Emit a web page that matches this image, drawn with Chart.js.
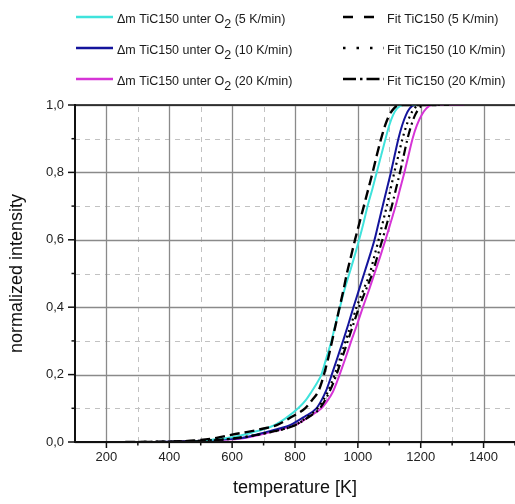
<!DOCTYPE html>
<html>
<head>
<meta charset="utf-8">
<script src="https://cdn.jsdelivr.net/npm/chart.js@4/dist/chart.umd.min.js"></script>
<style>
  html, body { margin: 0; padding: 0; background: #fff; }
  canvas { display: block; }
</style>
</head>
<body>
<canvas id="c" width="515" height="504"></canvas>
<script>
// Measured TG curves (normalized mass change) of TiC150 under O2
const t5 = [300, 450, 500, 550, 600, 630, 670, 700, 735, 770, 810, 835, 853, 870, 884, 900, 916, 929, 943, 957, 973, 989, 1004, 1018, 1031, 1046, 1060, 1074, 1088, 1100, 1112, 1125, 1145, 1200];
const m5 = [0, 0, 0.003, 0.008, 0.014, 0.02, 0.03, 0.038, 0.05, 0.07, 0.1, 0.125, 0.15, 0.175, 0.2, 0.25, 0.3, 0.35, 0.4, 0.45, 0.5, 0.55, 0.6, 0.65, 0.7, 0.75, 0.8, 0.85, 0.9, 0.94, 0.97, 0.99, 1.0, 1.0];

const t10 = [350, 450, 500, 550, 630, 710, 750, 784, 830, 868, 885, 898, 908, 917, 935, 953, 970, 986, 1003, 1020, 1037, 1053, 1066, 1079, 1092, 1105, 1117, 1129, 1141, 1153, 1165, 1182, 1250];
const m10 = [0, 0.002, 0.004, 0.007, 0.012, 0.03, 0.04, 0.05, 0.075, 0.1, 0.125, 0.15, 0.175, 0.2, 0.25, 0.3, 0.35, 0.4, 0.45, 0.5, 0.55, 0.6, 0.65, 0.7, 0.75, 0.8, 0.85, 0.9, 0.94, 0.97, 0.99, 1.0, 1.0];

const t20 = [350, 400, 500, 600, 630, 726, 765, 800, 845, 884, 905, 921, 932, 942, 961, 979, 998, 1016, 1035, 1053, 1071, 1088, 1104, 1120, 1134, 1148, 1161, 1174, 1188, 1203, 1218, 1236, 1338];
const m20 = [0, 0, 0.003, 0.008, 0.01, 0.03, 0.04, 0.05, 0.075, 0.1, 0.125, 0.15, 0.175, 0.2, 0.25, 0.3, 0.35, 0.4, 0.45, 0.5, 0.55, 0.6, 0.65, 0.7, 0.75, 0.8, 0.85, 0.9, 0.94, 0.97, 0.99, 1.0, 1.0];

// Kinetic model fits
const tFit5 = [260, 400, 500, 550, 600, 650, 700, 742, 790, 832, 855, 874, 884, 892, 906, 918, 930, 942, 954, 965, 978, 991, 1005, 1019, 1033, 1047, 1060, 1074, 1087, 1100, 1115, 1131, 1250];
const fit5 = [0, 0.001, 0.006, 0.012, 0.022, 0.03, 0.04, 0.05, 0.075, 0.1, 0.125, 0.15, 0.175, 0.2, 0.25, 0.3, 0.35, 0.4, 0.45, 0.5, 0.55, 0.6, 0.65, 0.7, 0.75, 0.8, 0.85, 0.9, 0.94, 0.97, 0.99, 1.0, 1.0];

const tFit10 = [300, 500, 600, 700, 800, 840, 872, 905, 926, 944, 961, 979, 996, 1017, 1038, 1052, 1066, 1079, 1092, 1104, 1116, 1129, 1142, 1155, 1167, 1180, 1195, 1260];
const fit10 = [0, 0.004, 0.01, 0.025, 0.05, 0.075, 0.1, 0.15, 0.2, 0.25, 0.3, 0.35, 0.4, 0.45, 0.5, 0.55, 0.6, 0.65, 0.7, 0.75, 0.8, 0.85, 0.9, 0.94, 0.97, 0.99, 1.0, 1.0];

const tFit20 = [300, 500, 600, 700, 800, 845, 879, 910, 932, 950, 968, 986, 1004, 1025, 1046, 1062, 1078, 1093, 1108, 1121, 1134, 1146, 1158, 1170, 1182, 1195, 1210, 1290];
const fit20 = [0, 0.003, 0.01, 0.025, 0.05, 0.075, 0.1, 0.15, 0.2, 0.25, 0.3, 0.35, 0.4, 0.45, 0.5, 0.55, 0.6, 0.65, 0.7, 0.75, 0.8, 0.85, 0.9, 0.94, 0.97, 0.99, 1.0, 1.0];

// Axis ticks
const xTicks = [200, 400, 600, 800, 1000, 1200, 1400];
const xMinor = [300, 500, 700, 900, 1100, 1300, 1500];
const yTicks = [0, 0.2, 0.4, 0.6, 0.8, 1.0];
const yMinor = [0.1, 0.3, 0.5, 0.7, 0.9];

const FONT = '"Liberation Sans", Arial, sans-serif';
const pts = (xs, ys) => xs.map((x, i) => ({ x: x, y: ys[i] }));

const legendRows = [
  { color: '#3fe3dc', label: '5 K/min', fit: [10, 11], fitLabel: 'Fit TiC150 (5 K/min)' },
  { color: '#14149c', label: '10 K/min', fit: [2.5, 11], fitLabel: 'Fit TiC150 (10 K/min)' },
  { color: '#d634d6', label: '20 K/min', fit: [13, 4, 2.5, 4], fitLabel: 'Fit TiC150 (20 K/min)' }
];

// Grid lines (solid major, dashed minor), axis frame and tick marks
const frame = {
  id: 'frame',
  beforeDatasetsDraw(chart) {
    const { ctx, chartArea: a, scales: { x, y } } = chart;
    ctx.save();
    ctx.lineWidth = 1;
    ctx.strokeStyle = '#c2c2c2';
    ctx.setLineDash([5, 5]);
    xMinor.forEach(v => {
      const px = Math.round(x.getPixelForValue(v)) + 0.5;
      ctx.beginPath(); ctx.moveTo(px, a.bottom); ctx.lineTo(px, a.top); ctx.stroke();
    });
    yMinor.forEach(v => {
      const py = Math.round(y.getPixelForValue(v)) + 0.5;
      ctx.beginPath(); ctx.moveTo(a.left, py); ctx.lineTo(a.right, py); ctx.stroke();
    });
    ctx.setLineDash([]);
    ctx.strokeStyle = '#8a8a8a';
    ctx.lineWidth = 1.3;
    xTicks.forEach(v => {
      const px = Math.round(x.getPixelForValue(v)) + 0.5;
      ctx.beginPath(); ctx.moveTo(px, a.bottom); ctx.lineTo(px, a.top); ctx.stroke();
    });
    yTicks.forEach(v => {
      const py = Math.round(y.getPixelForValue(v)) + 0.5;
      ctx.beginPath(); ctx.moveTo(a.left, py); ctx.lineTo(a.right, py); ctx.stroke();
    });
    ctx.restore();
  },
  afterDatasetsDraw(chart) {
    const { ctx, chartArea: a, scales: { x, y } } = chart;
    ctx.save();
    ctx.strokeStyle = '#111';
    ctx.lineWidth = 1.6;
    ctx.beginPath(); ctx.moveTo(a.left, a.top); ctx.lineTo(a.right, a.top); ctx.stroke();
    ctx.lineWidth = 2;
    ctx.beginPath();
    ctx.moveTo(a.left, a.top - 1); ctx.lineTo(a.left, a.bottom); ctx.lineTo(a.right, a.bottom);
    ctx.stroke();
    ctx.lineWidth = 1.5;
    xTicks.forEach(v => {
      const px = x.getPixelForValue(v);
      ctx.beginPath(); ctx.moveTo(px, a.bottom); ctx.lineTo(px, a.bottom + 6); ctx.stroke();
    });
    xMinor.forEach(v => {
      const px = x.getPixelForValue(v);
      ctx.beginPath(); ctx.moveTo(px, a.bottom); ctx.lineTo(px, a.bottom + 3.5); ctx.stroke();
    });
    yTicks.forEach(v => {
      const py = y.getPixelForValue(v);
      ctx.beginPath(); ctx.moveTo(a.left, py); ctx.lineTo(a.left - 7, py); ctx.stroke();
    });
    yMinor.forEach(v => {
      const py = y.getPixelForValue(v);
      ctx.beginPath(); ctx.moveTo(a.left, py); ctx.lineTo(a.left - 3.5, py); ctx.stroke();
    });
    ctx.restore();
  }
};

// Two-column legend with subscripted O2
const legend = {
  id: 'twoColLegend',
  afterDraw(chart) {
    const ctx = chart.ctx;
    ctx.save();
    ctx.font = '12.5px ' + FONT;
    ctx.fillStyle = '#1a1a1a';
    ctx.textBaseline = 'alphabetic';
    ctx.textAlign = 'left';
    legendRows.forEach((r, i) => {
      const base = 22.5 + i * 31;
      const ly = base - 5.5;
      ctx.setLineDash([]);
      ctx.strokeStyle = r.color;
      ctx.lineWidth = 2.6;
      ctx.beginPath(); ctx.moveTo(76, ly); ctx.lineTo(113, ly); ctx.stroke();
      let tx = 117;
      const s1 = '\u0394m TiC150 unter O';
      ctx.fillText(s1, tx, base);
      tx += ctx.measureText(s1).width;
      ctx.fillText('2', tx, base + 5);
      tx += ctx.measureText('2').width;
      ctx.fillText(' (' + r.label + ')', tx, base);

      ctx.strokeStyle = '#000';
      ctx.lineWidth = 2.6;
      ctx.setLineDash(r.fit);
      ctx.beginPath(); ctx.moveTo(343, ly); ctx.lineTo(384, ly); ctx.stroke();
      ctx.setLineDash([]);
      ctx.fillText(r.fitLabel, 387, base);
    });
    ctx.restore();
  }
};

const line = (data, color, width, dash) => ({
  data: data,
  borderColor: color,
  borderWidth: width,
  borderDash: dash,
  pointRadius: 0,
  fill: false,
  cubicInterpolationMode: 'monotone'
});

new Chart(document.getElementById('c'), {
  type: 'line',
  data: {
    datasets: [
      line(pts(tFit5, fit5), '#000', 2.4, [10, 5]),
      line(pts(tFit10, fit10), '#000', 2.2, [2, 4]),
      line(pts(tFit20, fit20), '#000', 2.2, [9, 4, 2, 4]),
      line(pts(t5, m5), '#3fe3dc', 2, []),
      line(pts(t10, m10), '#14149c', 2, []),
      line(pts(t20, m20), '#d634d6', 2, [])
    ]
  },
  options: {
    responsive: false,
    animation: false,
    events: [],
    layout: { padding: { top: 105, right: 0, left: 0, bottom: 0 } },
    plugins: { legend: { display: false }, tooltip: { enabled: false } },
    scales: {
      x: {
        type: 'linear',
        min: 100,
        max: 1500,
        afterFit(s) { s.height = 62; },
        afterBuildTicks(s) { s.ticks = xTicks.map(v => ({ value: v })); },
        grid: { display: false, drawTicks: false },
        border: { display: false },
        ticks: {
          padding: 8,
          color: '#222',
          font: { family: FONT, size: 13 },
          maxRotation: 0,
          callback: v => String(v)
        },
        title: {
          display: true,
          text: 'temperature [K]',
          color: '#111',
          font: { family: FONT, size: 18 },
          padding: { top: 0, bottom: 5 }
        }
      },
      y: {
        type: 'linear',
        min: 0,
        max: 1.0,
        afterFit(s) { s.width = 75; },
        afterBuildTicks(s) { s.ticks = yTicks.map(v => ({ value: v })); },
        grid: { display: false, drawTicks: false },
        border: { display: false },
        ticks: {
          padding: 11,
          color: '#222',
          font: { family: FONT, size: 13 },
          callback: v => v.toFixed(1).replace('.', ',')
        },
        title: {
          display: true,
          text: 'normalized intensity',
          color: '#111',
          font: { family: FONT, size: 18 },
          padding: { top: 6, bottom: 0 }
        }
      }
    }
  },
  plugins: [frame, legend]
});
</script>
</body>
</html>
